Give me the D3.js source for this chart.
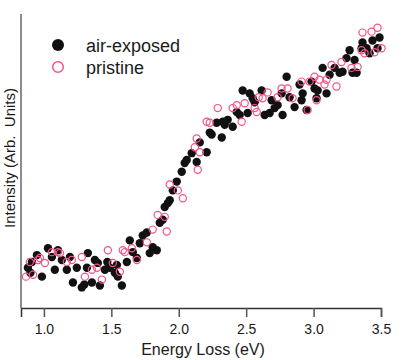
<!DOCTYPE html>
<html>
<head>
<meta charset="utf-8">
<script src="https://cdn.jsdelivr.net/npm/d3@7"></script>
<style>
    body { margin: 0; background: #fff; }
    text { font-family: "Liberation Sans", Arial, sans-serif; fill: #1a1a1a; }
</style>
</head>
<body>
<svg id="mySVG" width="417" height="360"></svg>
<script>
// energy loss (eV) and intensity (arb. units)
let airEnergy = [0.881, 0.900, 0.911, 0.948, 0.985, 1.030, 1.059, 1.081, 1.104, 1.133, 1.170,
    1.193, 1.215, 1.244, 1.281, 1.300, 1.319, 1.326, 1.356, 1.378, 1.400, 1.415,
    1.452, 1.470, 1.489, 1.526, 1.541, 1.548, 1.578, 1.615, 1.637, 1.659, 1.689,
    1.711, 1.733, 1.763, 1.785, 1.807, 1.837, 1.859, 1.881, 1.896, 1.919,
    1.933, 1.956, 1.985, 2.022, 2.044, 2.059, 2.096, 2.133, 2.156, 2.207,
    2.230, 2.244, 2.281, 2.319, 2.326, 2.341, 2.363, 2.400, 2.430, 2.452,
    2.474, 2.511, 2.526, 2.548, 2.563, 2.615, 2.637, 2.674, 2.689, 2.711,
    2.733, 2.763, 2.770, 2.800, 2.822, 2.859, 2.896, 2.911, 2.919, 2.948,
    2.985, 3.007, 3.022, 3.030, 3.067, 3.096, 3.119, 3.156, 3.193, 3.215,
    3.244, 3.267, 3.289, 3.304, 3.319, 3.356, 3.363, 3.393, 3.415, 3.437,
    3.474, 3.489];
let airIntensity = [0.41, 0.36, 0.47, 0.54, 0.32, 0.61, 0.52, 0.39, 0.59, 0.49, 0.39,
    0.52, 0.26, 0.41, 0.21, 0.24, 0.41, 0.56, 0.26, 0.49, 0.46, 0.23,
    0.39, 0.47, 0.41, 0.36, 0.44, 0.32, 0.23, 0.47, 0.69, 0.57, 0.51,
    0.66, 0.74, 0.77, 0.56, 0.62, 0.59, 0.87, 0.90, 1.03, 1.07,
    1.10, 1.20, 1.29, 1.39, 1.48, 1.51, 1.58, 1.49, 1.69, 1.59,
    1.79, 1.77, 1.89, 1.74, 1.90, 1.87, 1.92, 1.85, 2.00, 1.97,
    2.22, 1.99, 2.19, 2.14, 2.10, 2.22, 1.97, 1.99, 2.12, 2.04,
    2.07, 2.19, 1.97, 2.36, 2.15, 2.05, 2.28, 2.12, 2.19, 2.02,
    2.31, 2.24, 2.14, 2.22, 2.45, 2.19, 2.38, 2.45, 2.40, 2.41,
    2.55, 2.63, 2.40, 2.53, 2.40, 2.65, 2.71, 2.65, 2.60, 2.73,
    2.65, 2.76];

let pristineEnergy = [0.867, 0.896, 0.919, 0.956, 0.970, 1.007, 1.059, 1.104, 1.119, 1.170,
    1.207, 1.281, 1.304, 1.356, 1.393, 1.430, 1.474, 1.511, 1.563, 1.585,
    1.600, 1.652, 1.689, 1.763, 1.807, 1.844, 1.896, 1.911, 1.933, 1.993,
    2.030, 2.119, 2.133, 2.141, 2.156, 2.207, 2.230, 2.289, 2.400, 2.430,
    2.467, 2.489, 2.563, 2.578, 2.593, 2.622, 2.659, 2.733, 2.763, 2.807,
    2.844, 2.911, 2.956, 2.970, 3.007, 3.022, 3.044, 3.081, 3.096, 3.133,
    3.170, 3.207, 3.281, 3.326, 3.356, 3.363, 3.378, 3.430, 3.452, 3.474,
    3.504];
let pristineIntensity = [0.32, 0.47, 0.34, 0.49, 0.51, 0.46, 0.57, 0.57, 0.56, 0.47,
    0.49, 0.52, 0.32, 0.39, 0.41, 0.29, 0.59, 0.46, 0.37, 0.59,
    0.57, 0.61, 0.49, 0.67, 0.80, 0.95, 0.93, 0.78, 1.26, 1.20,
    1.12, 1.64, 1.73, 1.41, 1.59, 1.90, 1.89, 2.04, 2.04, 2.07,
    1.90, 2.09, 2.04, 2.00, 2.15, 2.14, 2.20, 2.15, 2.24, 2.24,
    2.14, 2.31, 2.02, 2.31, 2.36, 2.12, 2.33, 2.28, 2.33, 2.48,
    2.26, 2.51, 2.45, 2.46, 2.63, 2.81, 2.60, 2.82, 2.61, 2.86,
    2.65];

let xTicks = [1.0, 1.5, 2.0, 2.5, 3.0, 3.5];
let seriesNames = ["air-exposed", "pristine"];

let pink = "#f5538a";

function main() {
    let svg = d3.select("#mySVG");

    let x = d3.scaleLinear().domain([0.83, 3.5]).range([21, 381]);
    let y = d3.scaleLinear().domain([0, 3.0]).range([308, 14]);

    let air = airEnergy.map((e, i) => ({ e: e, v: airIntensity[i] }));
    let pristine = pristineEnergy.map((e, i) => ({ e: e, v: pristineIntensity[i] }));

    // bottom axis
    let xAxis = svg.append("g")
        .attr("transform", `translate(0,${y(0)})`)
        .call(d3.axisBottom(x).tickValues(xTicks).tickFormat(d3.format(".1f"))
            .tickSize(9).tickSizeOuter(9));
    xAxis.select(".domain").style("stroke", "#333").style("stroke-width", 1.5);
    xAxis.selectAll(".tick line").style("stroke", "#555").style("stroke-width", 1.5);
    xAxis.selectAll(".tick text")
        .attr("y", 16)
        .style("font-family", "'Liberation Sans', Arial, sans-serif")
        .style("font-size", "14px")
        .style("fill", "#1a1a1a");

    // left axis: plain line, no ticks
    svg.append("line")
        .attr("x1", x(0.83)).attr("x2", x(0.83))
        .attr("y1", y(3.0)).attr("y2", y(0))
        .style("stroke", "#666")
        .style("stroke-width", 1.5);

    // points
    svg.selectAll(".air")
        .data(air)
        .join("circle")
        .classed("air", true)
        .attr("cx", d => x(d.e))
        .attr("cy", d => y(d.v))
        .attr("r", 4.2)
        .style("fill", "#111");

    svg.selectAll(".pristine")
        .data(pristine)
        .join("circle")
        .classed("pristine", true)
        .attr("cx", d => x(d.e))
        .attr("cy", d => y(d.v))
        .attr("r", 3.6)
        .style("fill", "none")
        .style("stroke", pink)
        .style("stroke-width", 1.2);

    // axis titles
    svg.append("text")
        .attr("x", 203)
        .attr("y", 355)
        .attr("text-anchor", "middle")
        .style("font-size", "16px")
        .text("Energy Loss (eV)");

    svg.append("text")
        .attr("transform", "translate(15,158) rotate(-90)")
        .attr("text-anchor", "middle")
        .style("font-size", "15px")
        .style("white-space", "pre")
        .text("Intensity (Arb.  Units)");

    // legend
    let legend = svg.append("g").attr("transform", "translate(58,45)");
    legend.selectAll("g")
        .data(seriesNames)
        .join("g")
        .attr("transform", (d, i) => `translate(0,${i * 22})`)
        .each(function(d, i) {
            let g = d3.select(this);
            g.append("circle")
                .attr("r", i == 0 ? 6 : 5.3)
                .style("fill", i == 0 ? "#111" : "none")
                .style("stroke", i == 0 ? "none" : pink)
                .style("stroke-width", 1.5);
            g.append("text")
                .attr("x", 28)
                .attr("y", 7)
                .style("font-size", "18px")
                .text(d);
        });
}

main();
</script>
</body>
</html>
